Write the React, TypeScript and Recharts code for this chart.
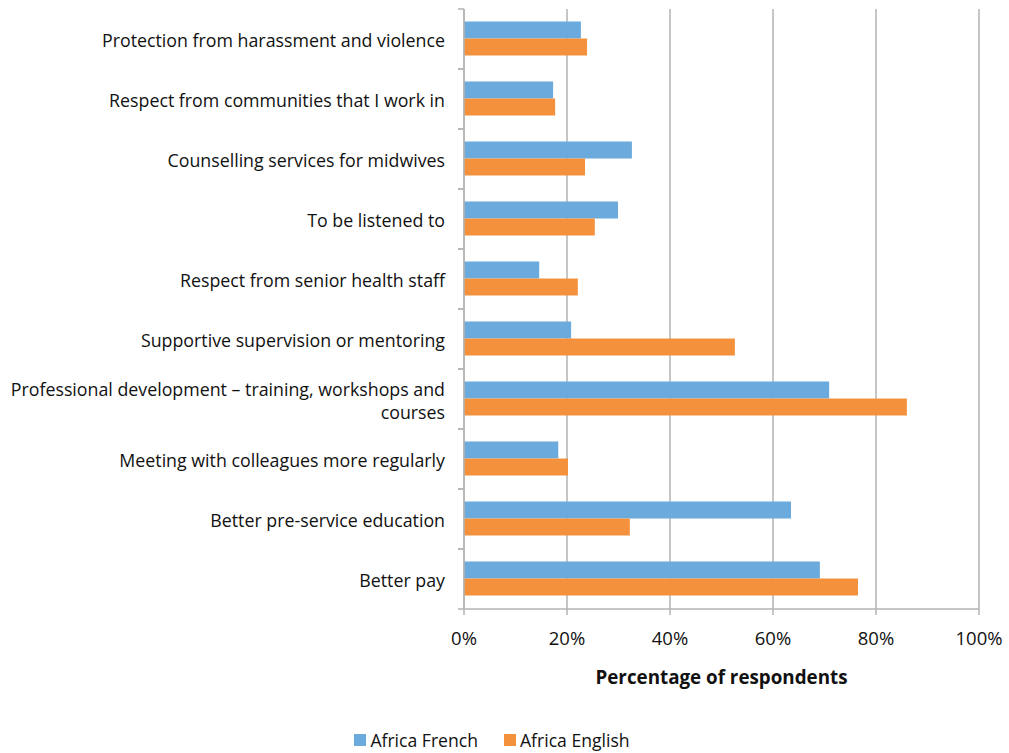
import { Bar, BarChart, CartesianGrid, Label, XAxis, YAxis } from "recharts";

document.body.style.margin = "0";

const categories = [
  "Protection from harassment and violence",
  "Respect from communities that I work in",
  "Counselling services for midwives",
  "To be listened to",
  "Respect from senior health staff",
  "Supportive supervision or mentoring",
  "Professional development – training, workshops and courses",
  "Meeting with colleagues more regularly",
  "Better pre-service education",
  "Better pay",
];

const africaFrench = [22.7, 17.3, 32.6, 29.9, 14.6, 20.8, 70.9, 18.3, 63.5, 69.1];
const africaEnglish = [23.9, 17.7, 23.5, 25.4, 22.1, 52.6, 86.0, 20.2, 32.2, 76.5];

const xTicks = [0, 20, 40, 60, 80, 100];

const BLUE = "#6aaadc";
const ORANGE = "#f3913d";
const GRID = "#b3b3b3";
const FONT = "'Open Sans', sans-serif";

const data = categories.map((name, i) => ({
  name,
  french: africaFrench[i],
  english: africaEnglish[i],
}));

function wrap(text: string, max: number) {
  const words = text.split(" ");
  const lines: string[] = [];
  let cur = "";
  for (const w of words) {
    const next = cur ? cur + " " + w : w;
    if (next.length > max && cur) {
      lines.push(cur);
      cur = w;
    } else {
      cur = next;
    }
  }
  if (cur) lines.push(cur);
  return lines;
}

function CategoryTick(props: any) {
  const { x, y, payload } = props;
  const axisX = x + 19;
  const half = 30;
  const lines = wrap(String(payload.value), 52);
  const lh = 23;
  const start = -((lines.length - 1) * lh) / 2;
  return (
    <g>
      <line x1={axisX - 6} x2={axisX} y1={y - half} y2={y - half} stroke={GRID} strokeWidth={1.5} />
      <line x1={axisX - 6} x2={axisX} y1={y + half} y2={y + half} stroke={GRID} strokeWidth={1.5} />
      <text x={x} y={y} textAnchor="end" fill="#111" fontSize={17.8} fontFamily={FONT}>
        {lines.map((l, i) => (
          <tspan key={i} x={x} dy={i === 0 ? start + 8 : lh}>
            {l}
          </tspan>
        ))}
      </text>
    </g>
  );
}

export default function App() {
  return (
    <div style={{ width: 1009, height: 753, background: "#fff", position: "relative" }}>
      <BarChart
        width={1009}
        height={700}
        data={data}
        layout="vertical"
        margin={{ top: 9, right: 30, bottom: 11, left: 0 }}
        barCategoryGap="21%"
        barGap={0}
      >
        <CartesianGrid horizontal={false} stroke={GRID} strokeWidth={1.5} />
        <XAxis
          type="number"
          domain={[0, 100]}
          ticks={xTicks}
          tickFormatter={(v) => `${v}%`}
          height={80}
          stroke={GRID}
          strokeWidth={1.5}
          tickSize={6}
          tickMargin={17}
          tick={{ fill: "#111", fontSize: 18.5, fontFamily: FONT }}
        >
          <Label
            value="Percentage of respondents"
            position="insideBottom"
            offset={5}
            style={{ fontWeight: 700, fontSize: 18.8, fill: "#111", fontFamily: FONT }}
          />
        </XAxis>
        <YAxis
          type="category"
          dataKey="name"
          width={464}
          stroke={GRID}
          strokeWidth={1.5}
          tickLine={false}
          tickSize={0}
          tickMargin={19}
          interval={0}
          tick={<CategoryTick />}
        />
        <Bar dataKey="french" name="Africa French" fill={BLUE} isAnimationActive={false} />
        <Bar dataKey="english" name="Africa English" fill={ORANGE} isAnimationActive={false} />
      </BarChart>
      <div
        style={{
          position: "absolute",
          top: 728,
          left: 0,
          width: 984,
          display: "flex",
          justifyContent: "center",
          gap: 26,
          fontFamily: FONT,
          fontSize: 17.6,
          color: "#111",
        }}
      >
        {[
          { label: "Africa French", color: BLUE },
          { label: "Africa English", color: ORANGE },
        ].map((item) => (
          <span key={item.label} style={{ display: "flex", alignItems: "center", gap: 4 }}>
            <span style={{ width: 12, height: 12, background: item.color, display: "inline-block" }} />
            {item.label}
          </span>
        ))}
      </div>
    </div>
  );
}
